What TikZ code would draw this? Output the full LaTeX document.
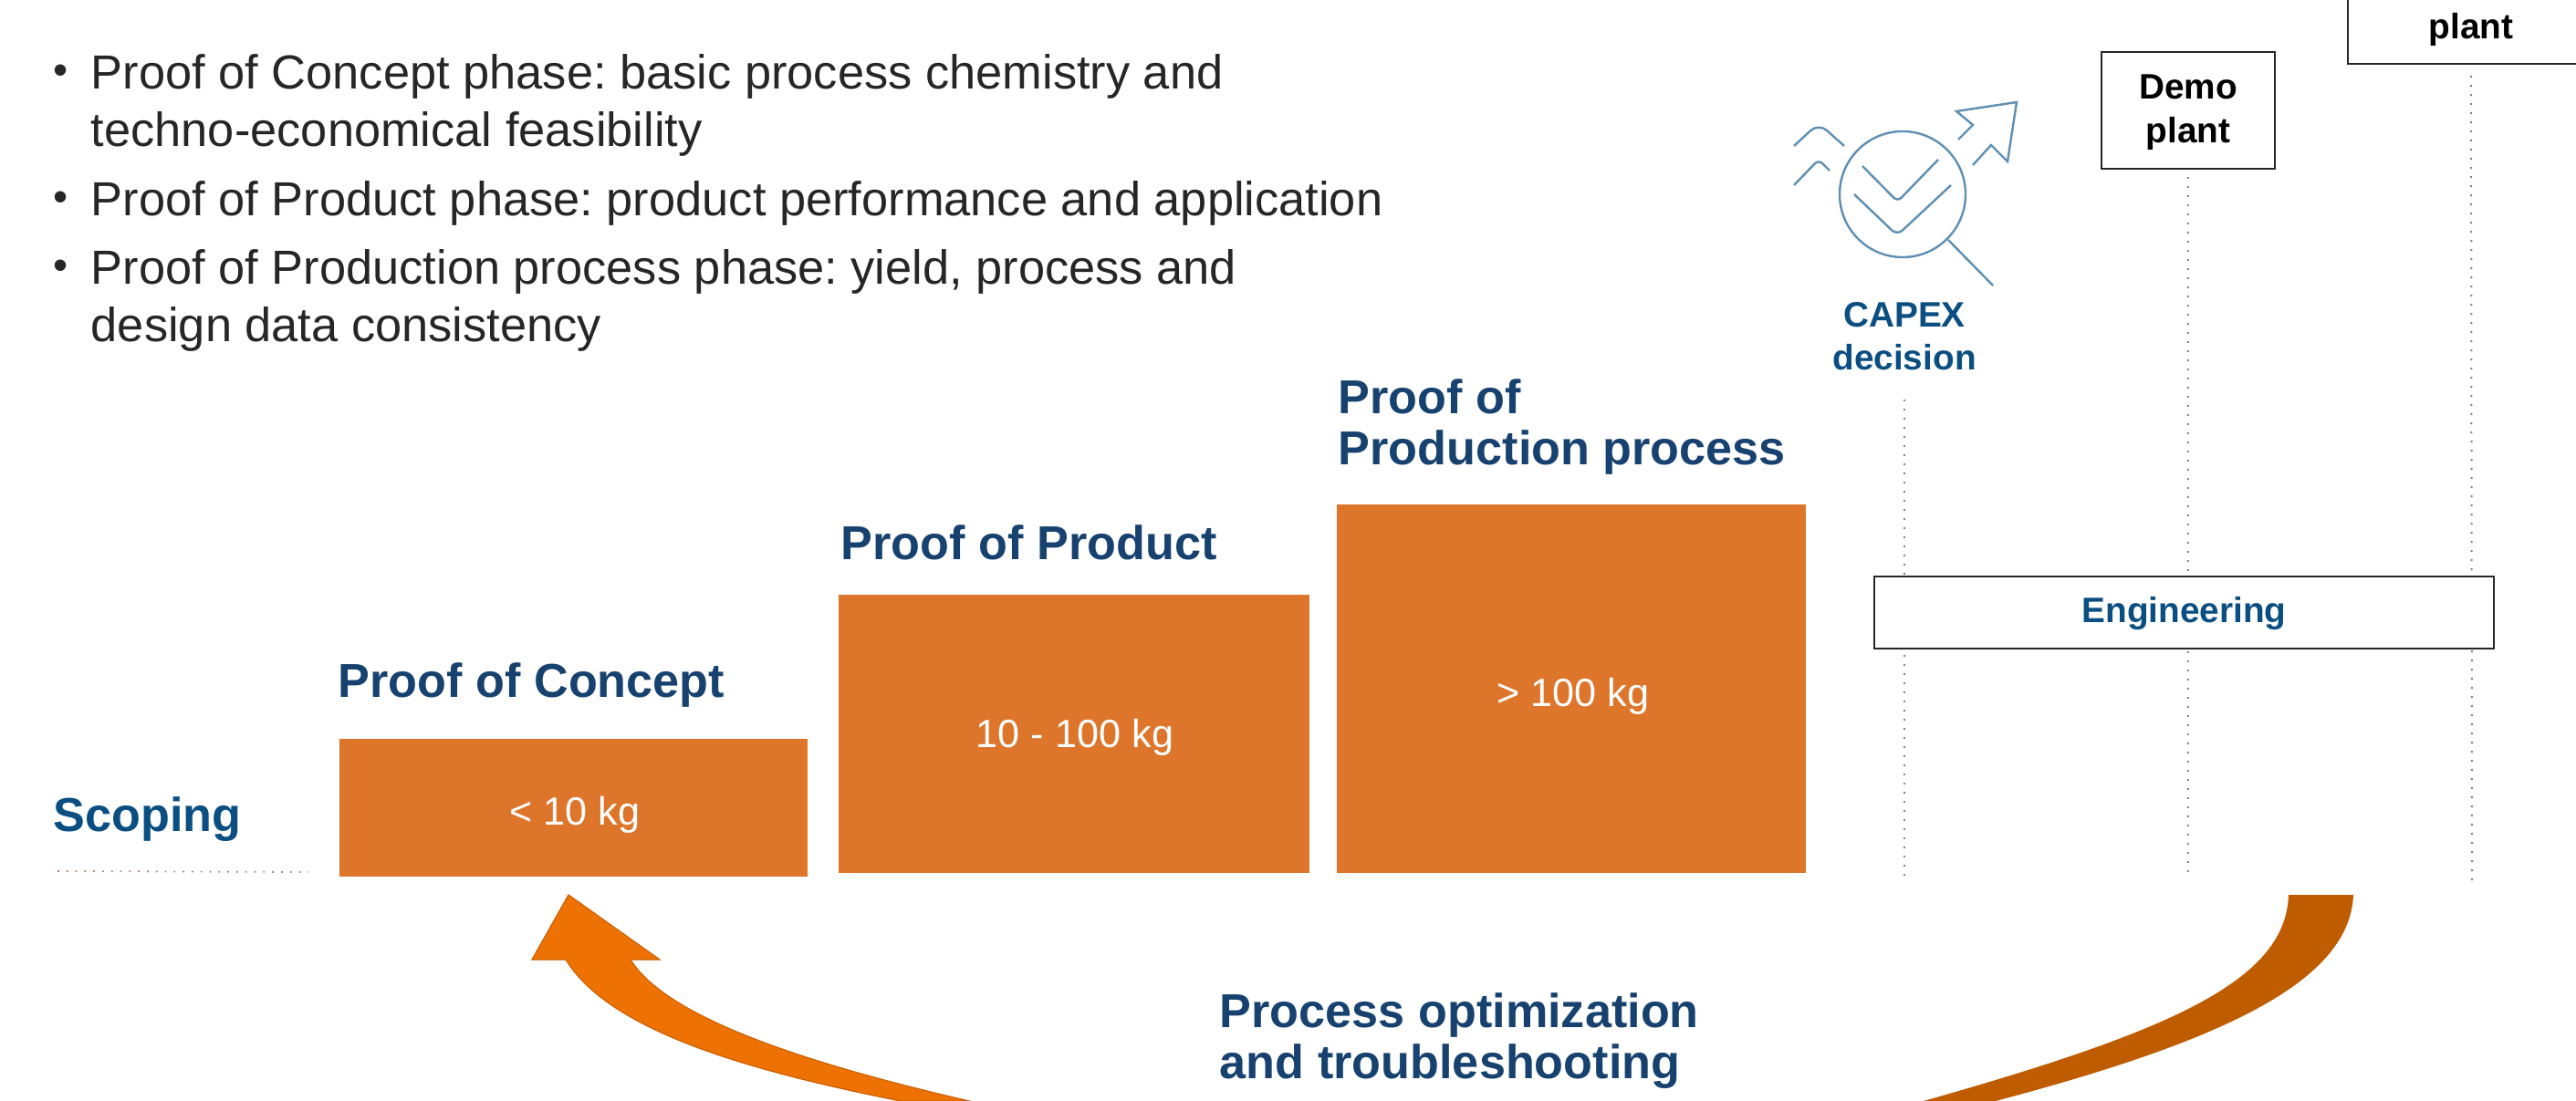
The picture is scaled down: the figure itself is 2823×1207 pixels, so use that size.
\documentclass[tikz,border=0pt]{standalone}
\usepackage{fontspec}
\setmainfont{Liberation Sans}
\frenchspacing
\definecolor{boxorange}{HTML}{DD752B}
\definecolor{arrowleft}{HTML}{EE7203}
\definecolor{arrowright}{HTML}{C05C00}
\definecolor{headblue}{HTML}{17426F}
\definecolor{scopeblue}{HTML}{0B4F82}
\definecolor{iconblue}{HTML}{5F8FB3}
\definecolor{bodytext}{HTML}{262626}
\newcommand{\bodyfont}{\fontsize{13.1}{15.75}\selectfont}
\newcommand{\headfont}{\fontsize{13.05}{14}\selectfont\bfseries}
\newcommand{\massfont}{\fontsize{10.8}{13}\selectfont}
\newcommand{\smallbold}{\fontsize{9.7}{12}\selectfont\bfseries}
\tikzset{
  x=0.25pt,y=-0.25pt,
  bodyline/.style={anchor=north west,inner sep=0pt,align=left,font=\bodyfont,text=bodytext},
  bulletmark/.style={inner sep=0pt,font=\fontsize{11.5}{13}\selectfont,text=bodytext},
  heading/.style={anchor=north west,inner sep=0pt,align=left,font=\headfont,text=headblue},
  massbox/.style={fill=boxorange,draw=none,inner sep=0pt},
  masslabel/.style={inner sep=0pt,text=white,font=\massfont},
  whitebox/.style={draw=black!85,fill=white,line width=0.55pt,inner sep=0pt,align=center,font=\smallbold},
  gate/.style={dotted,line width=0.5pt,draw=black!50},
  iconline/.style={draw=iconblue,line width=0.6pt,line join=miter},
}
\begin{document}
\begin{tikzpicture}
\useasboundingbox (0,0) rectangle (2823,1207);
\clip (0,0) rectangle (2823,1207);

% bullet list
\node[bulletmark] (b1) at (67,82) {•};
\node[bodyline] (t1) at (99,59) {Proof of Concept phase: basic process chemistry and\\techno-economical feasibility};
\node[bulletmark] (b2) at (67,221) {•};
\node[bodyline] (t2) at (99,198) {Proof of Product phase: product performance and application};
\node[bulletmark] (b3) at (67,296) {•};
\node[bodyline] (t3) at (99,273) {Proof of Production process phase: yield, process and\\design data consistency};

% gates (dotted, behind engineering)
\coordinate (capextop) at (2087,438);
\coordinate (capexend) at (2087,965);
\coordinate (demoend) at (2398,963);
\coordinate (plantend) at (2709,965);

% plant boxes
\node[whitebox,minimum width=190*0.25pt,minimum height=128*0.25pt] (demo) at (2398,121) {\rule{0pt}{8pt}Demo\\plant};
\node[draw=black!85,fill=white,line width=0.55pt,minimum width=270*0.25pt,minimum height=128*0.25pt,inner sep=0pt] (fullbox) at (2708,6) {};
\node[inner sep=0pt,font=\smallbold] (fulltext) at (2708,32) {plant};

\draw[gate] (capextop) -- (capexend);
\draw[gate] ([yshift=-8*0.25pt]demo.south) -- (demoend);
\draw[gate] ([yshift=-12*0.25pt]fullbox.south) -- (plantend);

\node[whitebox,minimum width=679*0.25pt,minimum height=79*0.25pt,text=scopeblue] (eng) at (2393.5,671.5) {\rule{0pt}{7.6pt}Engineering};

% stage boxes
\node[massbox,minimum width=513*0.25pt,minimum height=151*0.25pt] (poc) at (628.5,885.5) {};
\node[masslabel] (poclabel) at (630,893) {< 10 kg};
\node[massbox,minimum width=516*0.25pt,minimum height=305*0.25pt] (pop) at (1177,804.5) {};
\node[masslabel] (poplabel) at (1178,808) {10 - 100 kg};
\node[massbox,minimum width=514*0.25pt,minimum height=404*0.25pt] (pops) at (1722,755) {};
\node[masslabel] (popslabel) at (1724,763) {> 100 kg};

% headings
\node[heading,text=scopeblue] (scoping) at (58,873) {Scoping};
\draw[dotted,line width=0.45pt,draw=boxorange!70!black!70] (63,955) -- (338,956);
\node[heading] (hpoc) at (370,726) {Proof of Concept};
\node[heading] (hpop) at (921,575) {Proof of Product};
\node[heading] (hpops) at (1466,415) {Proof of\\Production process};
\node[heading] (hopt) at (1336,1088) {Process optimization\\and troubleshooting};

% curved arrows
\draw[fill=arrowleft,draw=arrowleft!85!black,line width=0.3pt,line join=miter]
  (623,981) -- (723,1052) -- (691,1052)
  .. controls (730,1115) and (880,1165) .. (1062,1207)
  -- (987,1207)
  .. controls (800,1170) and (665,1125) .. (620,1052)
  -- (583,1052) -- cycle;
\fill[arrowright] (2508,981) -- (2579,981)
  .. controls (2575,1075) and (2440,1140) .. (2187,1207)
  -- (2108,1207)
  .. controls (2380,1130) and (2505,1075) .. (2508,981) -- cycle;

% CAPEX icon
\draw[iconline] (2085,213) circle[radius=69];
\draw[iconline,rounded corners=1.5pt] (2041,182) -- (2079.5,221) -- (2124,175);
\draw[iconline,rounded corners=2pt] (2032,213) -- (2079,258) -- (2138,203);
\draw[iconline] (2135,263) -- (2184,313);
\draw[iconline,rounded corners=3pt] (1966,160) -- (1993,135) -- (2021,160);
\draw[iconline,rounded corners=1.5pt] (1966,203) -- (1993,175) -- (2005,187);
\draw[iconline] (2146,153) -- (2162,137) -- (2144,122) -- (2210,112) -- (2200,177) -- (2182,159) -- (2162,181);
\node[inner sep=0pt,font=\smallbold,text=scopeblue] (capex) at (2087,345) {CAPEX};
\node[inner sep=0pt,font=\smallbold,text=scopeblue] (decision) at (2087,392) {decision};
\end{tikzpicture}
\end{document}
